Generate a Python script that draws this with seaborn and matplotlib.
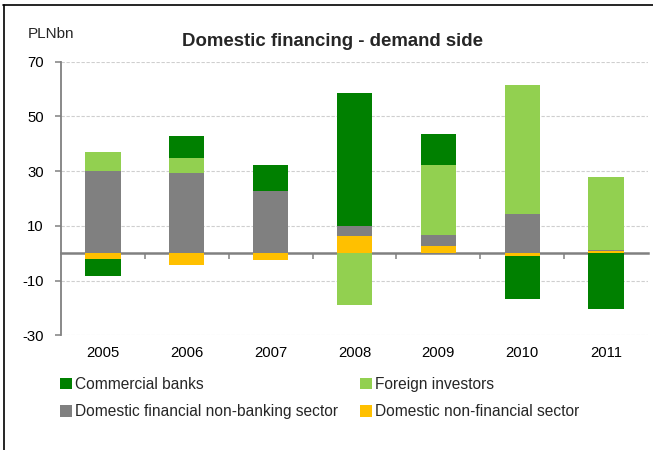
import numpy as np
import pandas as pd
import matplotlib
matplotlib.use("Agg")
import matplotlib.pyplot as plt
import seaborn as sns
from matplotlib.patches import Patch
from matplotlib.lines import Line2D

# PLN bn, demand side of domestic financing
years = ["2005", "2006", "2007", "2008", "2009", "2010", "2011"]
domestic_non_financial = [-2.0, -4.2, -2.6, 6.2, 2.6, -1.0, 0.8]
domestic_fin_non_banking = [30.1, 29.5, 22.9, 3.7, 4.0, 14.5, 0.5]
foreign_investors = [7.0, 5.3, 0.0, -19.0, 25.8, 47.0, 26.5]
commercial_banks = [-6.5, 8.0, 9.3, 48.5, 11.0, -15.8, -20.5]

y_ticks = [-30, -10, 10, 30, 50, 70]

series = [
    ("Domestic non-financial sector", domestic_non_financial, "#FFC000"),
    ("Domestic financial non-banking sector", domestic_fin_non_banking, "#808080"),
    ("Foreign investors", foreign_investors, "#92D050"),
    ("Commercial banks", commercial_banks, "#008000"),
]

sns.set_theme(style="white")
plt.rcParams["font.family"] = ["Liberation Sans", "DejaVu Sans"]
plt.rcParams["axes.unicode_minus"] = False

fig = plt.figure(figsize=(6.53, 4.5), dpi=100)
ax = fig.add_axes([61 / 653, 1 - 335.3 / 450, 587 / 653, 273.6 / 450])

pos_base = np.zeros(len(years))
neg_base = np.zeros(len(years))
for name, vals, color in series:
    v = np.asarray(vals, dtype=float)
    bottom = np.where(v >= 0, pos_base, neg_base)
    df = pd.DataFrame({"year": years, "value": v})
    sns.barplot(data=df, x="year", y="value", order=years, color=color,
                saturation=1, width=0.42, bottom=bottom, errorbar=None,
                linewidth=0, ax=ax, zorder=2)
    pos_base += np.clip(v, 0, None)
    neg_base += np.clip(v, None, 0)

ax.set_xlim(-0.5, len(years) - 0.5)
ax.set_ylim(-30, 70)
ax.set_yticks(y_ticks)
ax.set_xlabel("")
ax.set_ylabel("")

ax.yaxis.grid(True, linestyle=(0, (3, 1.5)), color="#cfcfcf", linewidth=0.8)
ax.xaxis.grid(False)
ax.set_axisbelow(True)

for side in ["top", "right", "bottom"]:
    ax.spines[side].set_visible(False)
ax.spines["left"].set_color("#808080")
ax.spines["left"].set_linewidth(1.3)

ax.tick_params(axis="y", which="major", direction="out", length=4.3, width=1.1,
               color="#808080", pad=8, labelsize=10.7, labelcolor="black", left=True)
ax.tick_params(axis="x", which="major", length=0, pad=8, labelsize=10.7,
               labelcolor="black")

# category axis drawn through zero, with ticks between categories
zero_frac = (0 - (-30)) / (70 - (-30))
sec = ax.secondary_xaxis(zero_frac)
sec.set_xticks(np.arange(len(years) - 1) + 0.5)
sec.set_xticklabels([])
sec.tick_params(direction="out", length=4, width=1.1, color="#808080")
sec.spines["bottom"].set_color("#808080")
sec.spines["bottom"].set_linewidth(1.8)
sec.spines["bottom"].set_zorder(5)

fig.text(27.5 / 653, 1 - 34 / 450, "PLNbn", fontsize=11, va="center", ha="left")
fig.text(333 / 653, 1 - 41 / 450, "Domestic financing - demand side",
         fontsize=13.4, fontweight="bold", va="center", ha="center")

handles = {n: Patch(facecolor=c, edgecolor="none", label=n) for n, _, c in series}
legend_kw = dict(loc="upper left", frameon=False, fontsize=11.2,
                 handlelength=0.74, handleheight=0.74, handletextpad=0.25,
                 labelspacing=0.8, borderpad=0, borderaxespad=0)
left_col = ["Commercial banks", "Domestic financial non-banking sector"]
right_col = ["Foreign investors", "Domestic non-financial sector"]
fig.legend([handles[n] for n in left_col], left_col,
           bbox_to_anchor=(60 / 653, 1 - 377 / 450), **legend_kw)
fig.legend([handles[n] for n in right_col], right_col,
           bbox_to_anchor=(360 / 653, 1 - 377 / 450), **legend_kw)

# frame lines
fig.add_artist(Line2D([3 / 653, 1], [1 - 5 / 450, 1 - 5 / 450],
                      transform=fig.transFigure, color="black", linewidth=1.2))
fig.add_artist(Line2D([4 / 653, 4 / 653], [0, 1 - 5 / 450],
                      transform=fig.transFigure, color="black", linewidth=1.2))

fig.savefig("out.png", dpi=100)
